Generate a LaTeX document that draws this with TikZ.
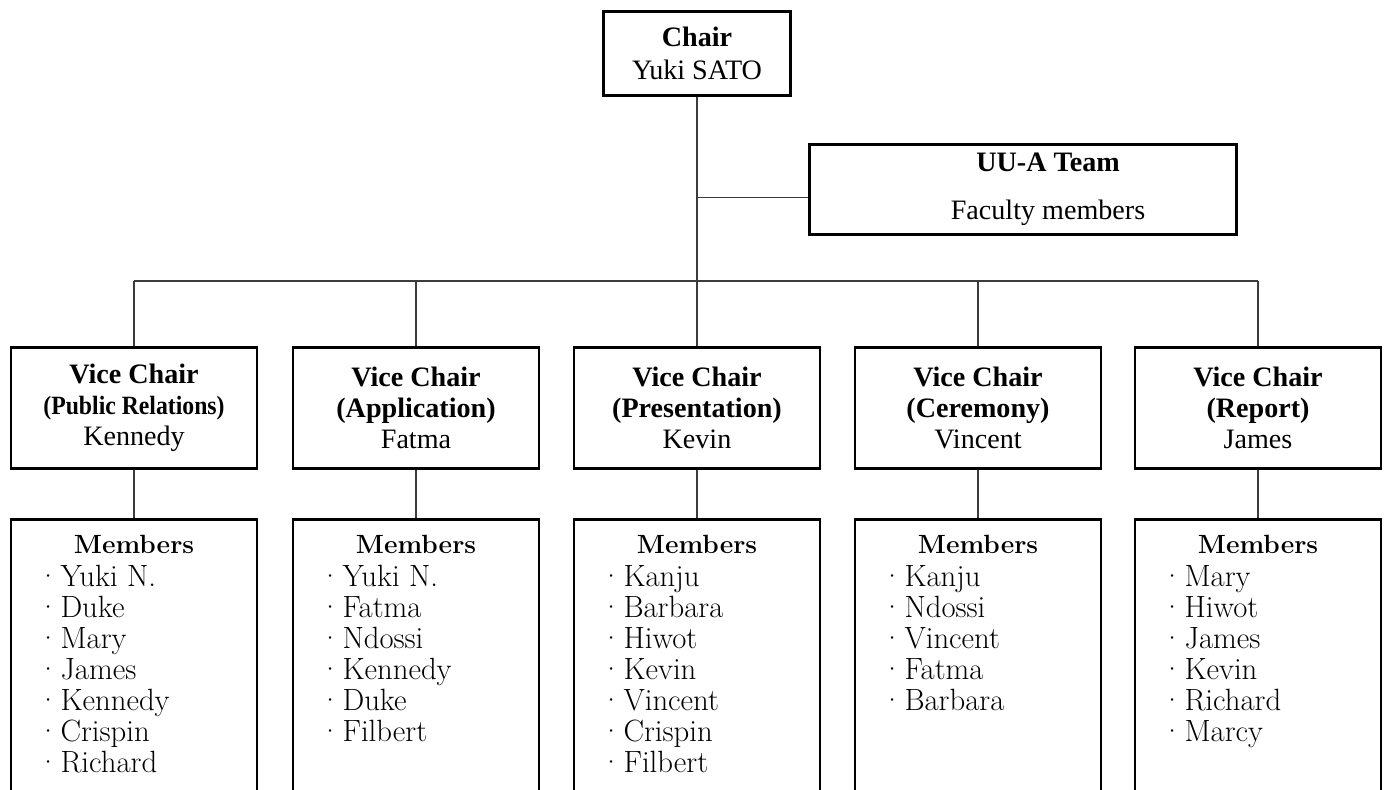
\documentclass[tikz,border=0pt]{standalone}
\usepackage{fontspec}
\usepackage{tikz}
\usetikzlibrary{positioning}
\newfontfamily\headfont{Liberation Serif}
\newlength{\viceboxwidth}
\newlength{\viceboxheight}
\newlength{\memberboxheight}
\newlength{\bulletindent}
\newlength{\bulletwidth}
\newlength{\boxrule}
\setlength{\viceboxwidth}{4.92cm}
\setlength{\viceboxheight}{2.42cm}
\setlength{\memberboxheight}{6cm}
\setlength{\bulletindent}{0.52cm}
\setlength{\bulletwidth}{0.47cm}
\setlength{\boxrule}{1.6pt}
\definecolor{boxcolor}{RGB}{0,0,0}
\definecolor{linkcolor}{RGB}{60,60,60}
\newcommand{\membername}[1]{\hspace*{\bulletindent}\makebox[\bulletwidth][l]{\textperiodcentered}#1\par}
\newcommand{\memberlist}[1]{%
	\parbox[t][\memberboxheight][t]{\viceboxwidth}{%
		\fontsize{17.5}{17.6}\selectfont
		\vspace*{9.2pt}%
		{\centering\fontsize{15}{17.6}\selectfont\textbf{Members}\par}%
		\vspace{1.1pt}%
		\raggedright
		\foreach \who in {#1}{\membername{\who}}%
	}%
}
\newcommand{\vicechair}[2]{\textbf{Vice Chair}\\\textbf{#1}\\#2}
\newcommand{\narrowrole}[1]{\scalebox{0.9}[1]{\fontsize{15}{17.6}\selectfont #1}}
\tikzstyle{box} = [draw=boxcolor, line width=\boxrule, inner sep=0pt, align=center, font=\headfont\fontsize{16}{17.6}\selectfont]
\tikzstyle{vicebox} = [box, minimum width=\viceboxwidth, minimum height=\viceboxheight]
\tikzstyle{memberbox} = [draw=boxcolor, line width=\boxrule, inner sep=0pt]
\tikzstyle{link} = [draw=linkcolor, line width=0.7pt]

\begin{document}
\begin{tikzpicture}[
		x=0.02cm, y=-0.02cm,
		node distance=0.96cm
		]
		\useasboundingbox (0,0) rectangle (1386,789);
		\clip (0,0) rectangle (1386,789);
		
		% chair and the faculty team
		\node[box, minimum width=3.74cm, minimum height=1.68cm] (chair) at (697,53.5) {\textbf{Chair}\\[1.1pt]Yuki SATO};
		\node[box, minimum width=8.54cm, minimum height=1.8cm] (team) at (1023,189.5) {\hspace*{1cm}\begin{tabular}{@{}c@{}}\textbf{UU-A Team}\\[10pt]Faculty members\end{tabular}};
		
		% vice chairs
		\foreach \role/\who/\xx [count=\i] in {\narrowrole{(Public Relations)}/Kennedy/134, (Application)/Fatma/416, (Presentation)/Kevin/697, (Ceremony)/Vincent/978, (Report)/James/1258}
		\node[vicebox] (vice\i) at (\xx,408) {\vicechair{\role}{\who}};
		
		% members
		\node[memberbox, below=of vice1] (members1) {\memberlist{Yuki N., Duke, Mary, James, Kennedy, Crispin, Richard}};
		\node[memberbox, below=of vice2] (members2) {\memberlist{Yuki N., Fatma, Ndossi, Kennedy, Duke, Filbert}};
		\node[memberbox, below=of vice3] (members3) {\memberlist{Kanju, Barbara, Hiwot, Kevin, Vincent, Crispin, Filbert}};
		\node[memberbox, below=of vice4] (members4) {\memberlist{Kanju, Ndossi, Vincent, Fatma, Barbara}};
		\node[memberbox, below=of vice5] (members5) {\memberlist{Mary, Hiwot, James, Kevin, Richard, Marcy}};
		
		% connectors
		\coordinate (bus) at (697,281);
		\draw[link] (chair.south) -- (chair.south |- bus);
		\draw[link] ([yshift=-0.16cm]team.west) -- ([yshift=-0.16cm]team.west -| chair.south);
		\draw[link] (vice1.north |- bus) -- (vice5.north |- bus);
		\foreach \i in {1,...,5}{
			\draw[link] (vice\i.north) -- (vice\i.north |- bus);
			\draw[link] (vice\i.south) -- (members\i.north);
		}
		
	\end{tikzpicture}
\end{document}
